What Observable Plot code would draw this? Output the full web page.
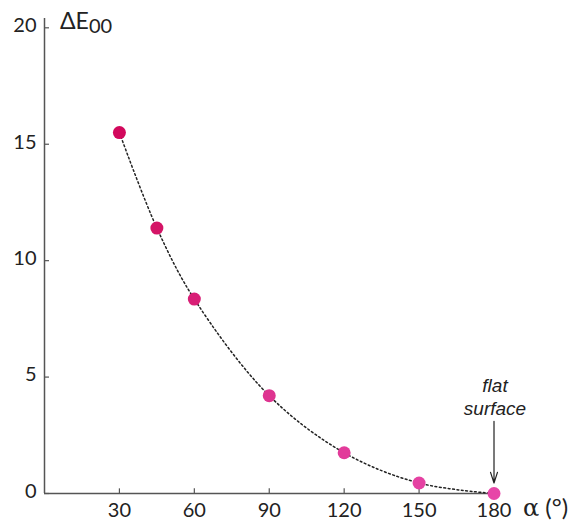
<!DOCTYPE html>
<html>
<head>
<meta charset="utf-8">
<script src="https://cdn.jsdelivr.net/npm/d3@7"></script>
<script src="https://cdn.jsdelivr.net/npm/@observablehq/plot@0.6"></script>
<style>
  body { margin: 0; background: #fff; }
  #chart { position: relative; width: 587px; height: 529px; }
</style>
</head>
<body>
<div id="chart"></div>
<script>
const angles = [30, 45, 60, 90, 120, 150, 180];
const deltaE = [15.5, 11.4, 8.35, 4.2, 1.75, 0.45, 0.0];
const pointColors = ["#d2085c", "#d41466", "#d81f76", "#de3490", "#e23b9a", "#e541a2", "#e746a8"];
const xTicks = [30, 60, 90, 120, 150, 180];
const yTicks = [0, 5, 10, 15, 20];
const noteLines = ["flat", "surface"];

const data = angles.map((a, i) => ({a, e: deltaE[i], c: pointColors[i]}));
const font = "Lato, 'Open Sans', sans-serif";

const plot = Plot.plot({
  width: 587,
  height: 529,
  marginLeft: 44,
  marginRight: 91,
  marginTop: 18,
  marginBottom: 36,
  style: {fontFamily: font, fontSize: "18px", color: "#222", background: "#fff"},
  x: {domain: [0, 181], axis: null},
  y: {domain: [0, 20.4], axis: null},
  marks: [
    Plot.ruleY([0], {x1: 0, x2: 181, stroke: "#555", strokeWidth: 1.5}),
    Plot.ruleX([0], {y1: 0, y2: 20.4, stroke: "#555", strokeWidth: 1.5}),
    Plot.ruleX(xTicks, {y1: 0, y2: 0.2, stroke: "#555", strokeWidth: 1.2}),
    Plot.ruleY(yTicks, {x1: 0, x2: 2, stroke: "#555", strokeWidth: 1.2}),
    Plot.text(xTicks, {x: d => d, y: 0, text: d => String(d), dy: 17, fontSize: 20, fill: "#222"}),
    Plot.text(yTicks, {x: 0, y: d => d, text: d => String(d), dx: -8, dy: -2, textAnchor: "end", fontSize: 20, fill: "#222"}),
    Plot.line(data, {x: "a", y: "e", curve: "catmull-rom", stroke: "#222", strokeWidth: 1.5, strokeDasharray: "1.8,2.6"}),
    Plot.dot(data, {x: "a", y: "e", r: 6.5, fill: "c", stroke: "none"}),
    Plot.arrow([{x1: 180, y1: 3.1, x2: 180, y2: 0.45}], {x1: "x1", y1: "y1", x2: "x2", y2: "y2", stroke: "#222", strokeWidth: 1.2, headLength: 14, headAngle: 36}),
    Plot.text(noteLines, {x: 180, y: (d, i) => i === 0 ? 4.6 : 3.65, text: d => d, fontStyle: "italic", fontSize: 19, fill: "#222", fontFamily: "'Liberation Sans Narrow', 'Liberation Sans', Arial, sans-serif", textAnchor: "middle", dx: 1})
  ]
});

document.getElementById("chart").appendChild(plot);

// axis titles added as real text in the same SVG
const svg = d3.select(plot);
const yTitle = svg.append("text")
  .attr("x", 60).attr("y", 29).attr("text-anchor", "start")
  .attr("font-family", font).attr("font-size", 23).attr("fill", "#222");
yTitle.append("tspan").text("ΔE");
yTitle.append("tspan").attr("font-size", 20).attr("dy", 4).text("00");

const xTitle = svg.append("text")
  .attr("x", 523).attr("y", 516).attr("text-anchor", "start")
  .attr("font-family", font).attr("font-size", 24).attr("fill", "#222");
xTitle.append("tspan").attr("font-family", "'DejaVu Serif', serif").attr("font-size", 24).text("α");
xTitle.append("tspan").text(" (°)");
</script>
</body>
</html>
